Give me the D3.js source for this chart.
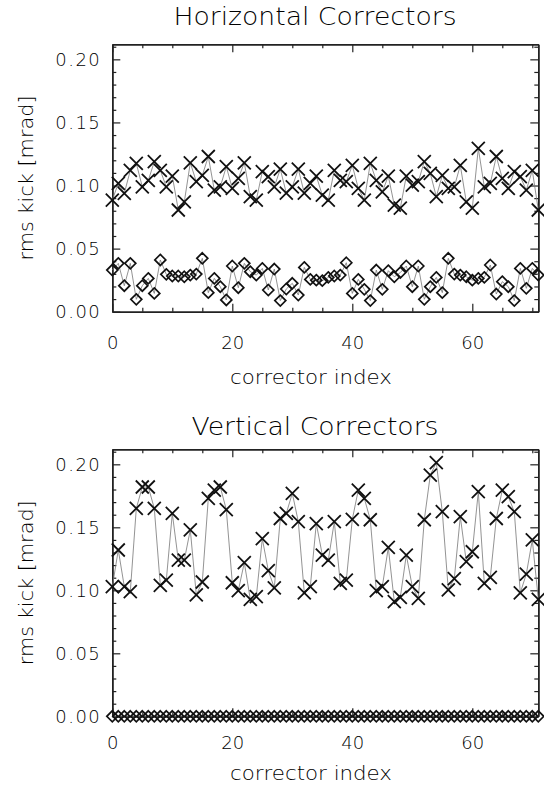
<!DOCTYPE html>
<html>
<head>
<meta charset="utf-8">
<script src="https://cdn.jsdelivr.net/npm/d3@7"></script>
<style>
    body { margin: 0; background: #fff; }
    svg text { font-family: "DejaVu Sans", sans-serif; font-weight: 300; fill: #000; }
    .axis path, .axis line { stroke: #222; }
</style>
</head>
<body>
<div id="chart"></div>
<script>
// rms corrector kicks, one value per corrector (index 0..71)
var hCross = [0.0885, 0.1017, 0.0938, 0.112, 0.1176, 0.099, 0.104, 0.119, 0.112, 0.099,
    0.1075, 0.0806, 0.087, 0.118, 0.103, 0.108, 0.123, 0.0964, 0.099, 0.115,
    0.0977, 0.1056, 0.118, 0.0912, 0.0885, 0.111, 0.107, 0.099, 0.113, 0.094,
    0.099, 0.113, 0.094, 0.1017, 0.1075, 0.0924, 0.0885, 0.112, 0.104, 0.103,
    0.116, 0.0977, 0.0885, 0.1176, 0.104, 0.095, 0.1075, 0.0845, 0.082, 0.1075,
    0.1004, 0.103, 0.119, 0.1096, 0.0912, 0.108, 0.0977, 0.099, 0.116, 0.087,
    0.082, 0.1294, 0.099, 0.1017, 0.123, 0.1056, 0.0977, 0.111, 0.107, 0.0964,
    0.112, 0.0806];
var hDiamond = [0.033, 0.0383, 0.0206, 0.0383, 0.0098, 0.0206, 0.0264, 0.0145, 0.041, 0.0296,
    0.0283, 0.0283, 0.0277, 0.029, 0.0298, 0.0423, 0.0151, 0.0264, 0.0198, 0.0093,
    0.0362, 0.019, 0.0383, 0.0317, 0.029, 0.0343, 0.0172, 0.0338, 0.0088, 0.018,
    0.0225, 0.0132, 0.0351, 0.0256, 0.025, 0.0246, 0.0272, 0.0283, 0.029, 0.0388,
    0.0145, 0.0256, 0.0177, 0.0088, 0.033, 0.0177, 0.0325, 0.0277, 0.031, 0.0362,
    0.0198, 0.0362, 0.0098, 0.0198, 0.0272, 0.0151, 0.0423, 0.0298, 0.029, 0.0277,
    0.025, 0.0264, 0.0272, 0.037, 0.014, 0.0238, 0.0198, 0.0088, 0.0343, 0.0185,
    0.0343, 0.029];
var vCross = [0.1029, 0.132, 0.1029, 0.099, 0.165, 0.182, 0.182, 0.165, 0.104, 0.108,
    0.161, 0.124, 0.124, 0.148, 0.0963, 0.1066, 0.173, 0.1796, 0.182, 0.164,
    0.106, 0.0997, 0.122, 0.0928, 0.095, 0.141, 0.1156, 0.102, 0.157, 0.161,
    0.177, 0.1545, 0.098, 0.1029, 0.153, 0.128, 0.124, 0.1545, 0.1055, 0.108,
    0.1563, 0.1796, 0.173, 0.156, 0.0997, 0.1029, 0.134, 0.091, 0.0944, 0.128,
    0.1029, 0.0936, 0.156, 0.1915, 0.2013, 0.1624, 0.1003, 0.1093, 0.1585, 0.1227,
    0.1306, 0.1783, 0.1055, 0.1103, 0.157, 0.1796, 0.1743, 0.1624, 0.098, 0.1129,
    0.14, 0.0928];
var vDiamond = [0, 0, 0, 0, 0, 0, 0, 0, 0, 0, 0, 0, 0, 0, 0, 0, 0, 0, 0, 0,
    0, 0, 0, 0, 0, 0, 0, 0, 0, 0, 0, 0, 0, 0, 0, 0, 0, 0, 0, 0,
    0, 0, 0, 0, 0, 0, 0, 0, 0, 0, 0, 0, 0, 0, 0, 0, 0, 0, 0, 0,
    0, 0, 0, 0, 0, 0, 0, 0, 0, 0, 0, 0];

var xTicks = [0, 20, 40, 60];
var xMinor = [5, 10, 15, 25, 30, 35, 45, 50, 55, 65, 70];
var yTicks = [0, 0.05, 0.10, 0.15, 0.20];
var yMinor = [0.01, 0.02, 0.03, 0.04, 0.06, 0.07, 0.08, 0.09, 0.11, 0.12, 0.13, 0.14, 0.16, 0.17, 0.18, 0.19, 0.21];

var width = 544, height = 785;

var svg = d3.select("#chart")
    .append("svg")
    .attr("width", width)
    .attr("height", height);

var left = 112.3, right = 538.3;

function drawPanel(title, crossData, diamondData, top, bottom, cfg) {
    var xScale = d3.scaleLinear().domain([0, 71]).range([left, right]);
    var yScale = d3.scaleLinear().domain([0, 0.212]).range([bottom, top]);

    var g = svg.append("g");

    // ticks, all pointing inward
    function addAxis(axis, tx, ty, labels) {
        var a = g.append("g")
            .attr("class", "axis")
            .attr("transform", "translate(" + tx + "," + ty + ")")
            .call(axis);
        a.select(".domain").attr("stroke-width", 1.5);
        a.selectAll("line").attr("stroke-width", 1.2);
        if (!labels) a.selectAll("text").remove();
        return a;
    }

    var xb = addAxis(d3.axisBottom(xScale).tickValues(xTicks).tickSizeInner(-8).tickSizeOuter(0)
        .tickPadding(cfg.xPad).tickFormat(d3.format("d")), 0, bottom, true);
    addAxis(d3.axisBottom(xScale).tickValues(xMinor).tickSizeInner(-4).tickSizeOuter(0), 0, bottom, false);
    addAxis(d3.axisTop(xScale).tickValues(xTicks).tickSizeInner(-8).tickSizeOuter(0), 0, top, false);
    addAxis(d3.axisTop(xScale).tickValues(xMinor).tickSizeInner(-4).tickSizeOuter(0), 0, top, false);

    var yl = addAxis(d3.axisLeft(yScale).tickValues(yTicks).tickSizeInner(-8).tickSizeOuter(0)
        .tickPadding(11).tickFormat(d3.format(".2f")), left, 0, true);
    addAxis(d3.axisLeft(yScale).tickValues(yMinor).tickSizeInner(-4).tickSizeOuter(0), left, 0, false);
    addAxis(d3.axisRight(yScale).tickValues(yTicks).tickSizeInner(-8).tickSizeOuter(0), right, 0, false);
    addAxis(d3.axisRight(yScale).tickValues(yMinor).tickSizeInner(-4).tickSizeOuter(0), right, 0, false);

    xb.selectAll("text").attr("font-size", "18px").attr("font-family", null).attr("fill", null);
    yl.selectAll("text").attr("font-size", "18px").attr("font-family", null).attr("fill", null)
        .style("letter-spacing", "1.5px");

    // connecting lines
    var line = d3.line()
        .x(function (d, i) { return xScale(i); })
        .y(function (d) { return yScale(d); });

    [crossData, diamondData].forEach(function (series) {
        g.append("path")
            .datum(series)
            .attr("d", line)
            .attr("fill", "none")
            .attr("stroke", "#777")
            .attr("stroke-width", 0.8);
    });

    g.selectAll(".diamond")
        .data(diamondData)
        .enter().append("path")
        .attr("class", "diamond")
        .attr("transform", function (d, i) { return "translate(" + xScale(i) + "," + yScale(d) + ")"; })
        .attr("d", "M0,-5.5L5.5,0L0,5.5L-5.5,0Z")
        .attr("fill", "none")
        .attr("stroke", "#111")
        .attr("stroke-width", 1.7);

    g.selectAll(".cross")
        .data(crossData)
        .enter().append("path")
        .attr("class", "cross")
        .attr("transform", function (d, i) { return "translate(" + xScale(i) + "," + yScale(d) + ")"; })
        .attr("d", "M-6.5,-6.5L6.5,6.5M-6.5,6.5L6.5,-6.5")
        .attr("fill", "none")
        .attr("stroke", "#111")
        .attr("stroke-width", 1.8);

    // labels
    g.append("text")
        .attr("x", 315)
        .attr("y", cfg.titleY)
        .attr("text-anchor", "middle")
        .attr("font-size", "24px")
        .attr("textLength", cfg.titleLen)
        .attr("lengthAdjust", "spacingAndGlyphs")
        .text(title);

    g.append("text")
        .attr("x", 311)
        .attr("y", cfg.xLabelY)
        .attr("text-anchor", "middle")
        .attr("font-size", "20px")
        .attr("textLength", 162)
        .attr("lengthAdjust", "spacingAndGlyphs")
        .text("corrector index");

    g.append("text")
        .attr("transform", "translate(33," + (top + bottom) / 2 + ") rotate(-90)")
        .attr("text-anchor", "middle")
        .attr("font-size", "20px")
        .attr("textLength", 165)
        .attr("lengthAdjust", "spacingAndGlyphs")
        .text("rms kick [mrad]");
}

drawPanel("Horizontal Correctors", hCross, hDiamond, 44.2, 311.7,
    {titleY: 25, titleLen: 283, xPad: 25, xLabelY: 384});
drawPanel("Vertical Correctors", vCross, vDiamond, 449.2, 716.3,
    {titleY: 435, titleLen: 247, xPad: 20, xLabelY: 780});
</script>
</body>
</html>
